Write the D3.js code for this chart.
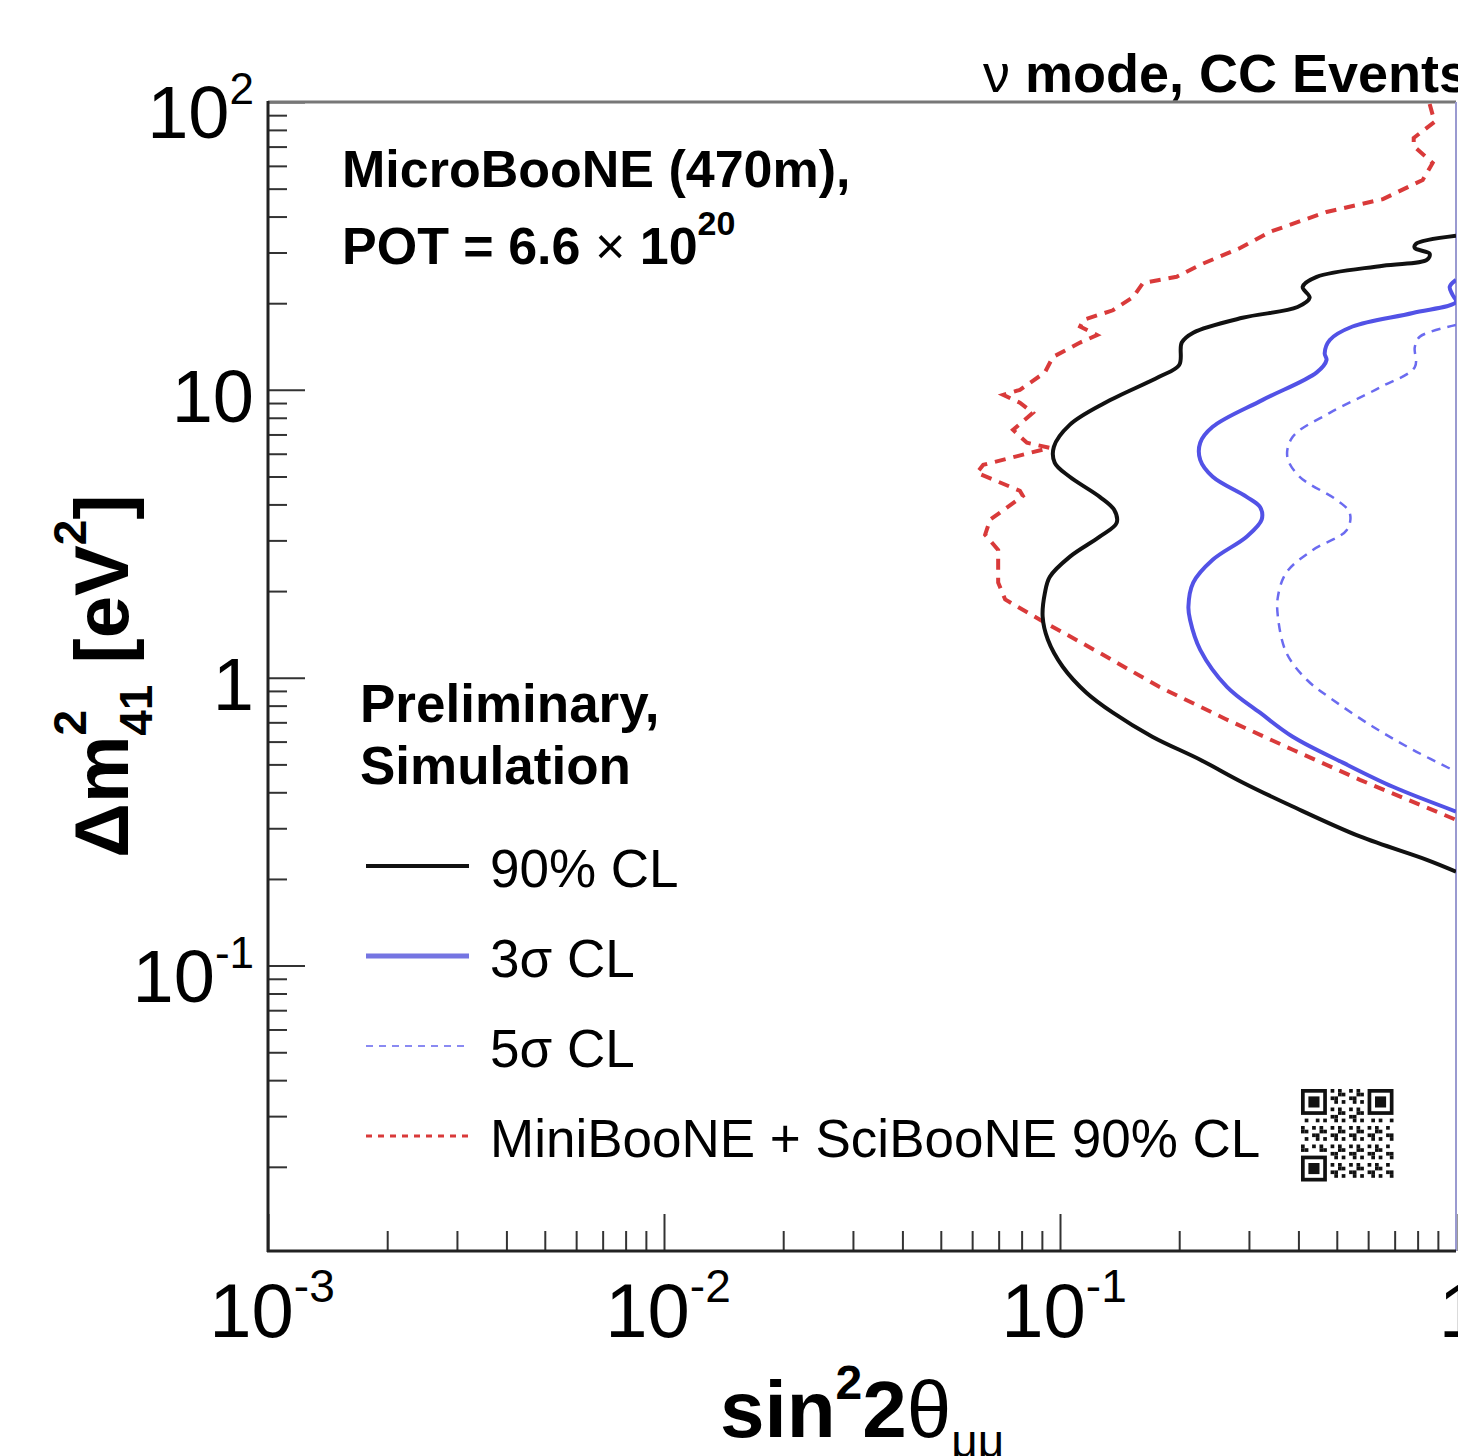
<!DOCTYPE html>
<meta charset="utf-8">
<html>
<head>
<style>
body {
  margin: 0;
  background: #fff;
}
text {
  font-family: "Liberation Sans", Arial, Helvetica, sans-serif;
  fill: #000;
}
</style>
</head>
<body>

<div id="my_dataviz"></div>

<script src="https://d3js.org/d3.v7.min.js"></script>
<script>

// contours, each point is [sin^2 2theta, dm^2_41 (eV^2)]
var cl90 = [[1.0,34.3],[0.791,32.1],[0.787,31.1],[0.858,29.7],[0.844,28.3],[0.654,27.0],[0.445,24.7],
  [0.410,22.8],[0.427,20.9],[0.398,19.4],[0.289,17.8],[0.217,15.8],[0.203,14.6],[0.200,12.2],[0.178,11.1],
  [0.130,9.02],[0.1058,7.56],[0.0965,6.34],[0.0970,5.58],[0.1058,4.99],[0.126,4.25],[0.137,3.83],[0.139,3.45],
  [0.126,3.09],[0.1058,2.63],[0.0942,2.24],[0.0916,1.97],[0.0904,1.63],[0.0932,1.355],[0.1016,1.092],
  [0.1166,0.887],[0.136,0.756],[0.171,0.624],[0.226,0.519],[0.290,0.432],[0.387,0.357],[0.572,0.281],
  [0.844,0.233],[1.0,0.212]];

var cl3sigma = [[1.0,24.1],[0.964,22.8],[0.980,21.4],[1.0,20.2],[0.778,18.5],[0.548,16.6],[0.480,14.9],
  [0.466,13.4],[0.471,12.7],[0.445,11.5],[0.325,9.23],[0.243,7.44],[0.226,6.55],[0.226,5.71],[0.243,4.99],
  [0.296,4.25],[0.320,3.92],[0.323,3.54],[0.296,3.09],[0.243,2.57],[0.217,2.14],[0.211,1.765],[0.213,1.59],
  [0.226,1.25],[0.264,0.93],[0.320,0.756],[0.387,0.624],[0.518,0.507],[0.693,0.418],[1.0,0.343]];

var cl5sigma = [[1.0,16.8],[0.810,15.3],[0.787,14.1],[0.787,12.0],[0.643,10.2],[0.480,8.32],[0.387,6.87],
  [0.375,5.85],[0.403,4.99],[0.499,4.15],[0.539,3.74],[0.530,3.26],[0.435,2.78],[0.373,2.32],[0.355,1.91],
  [0.355,1.63],[0.373,1.22],[0.420,0.984],[0.488,0.839],[0.617,0.676],[0.778,0.562],[1.0,0.472]];

var miniSciBooNE = [[0.858,98.4],[0.883,85.3],[0.782,75.0],[0.782,70.3],[0.873,61.4],[0.824,53.6],[0.654,46.0],
  [0.471,41.5],[0.339,35.4],[0.285,31.1],[0.226,27.2],[0.197,24.7],[0.162,23.5],[0.153,21.0],[0.136,18.9],
  [0.1145,17.5],[0.1124,16.6],[0.124,15.5],[0.1124,14.6],[0.0959,13.0],[0.0916,11.5],[0.0792,10.0],
  [0.0719,9.61],[0.0792,9.02],[0.0854,8.32],[0.0761,7.26],[0.0825,6.55],[0.0942,6.29],[0.0640,5.49],
  [0.0617,5.15],[0.0792,4.46],[0.0806,4.28],[0.0666,3.54],[0.0647,3.14],[0.0698,2.78],[0.0698,2.14],
  [0.0727,1.87],[0.0890,1.59],[0.126,1.22],[0.178,0.93],[0.264,0.715],[0.387,0.562],[0.572,0.442],[1.0,0.321]];

// tick values and labels ([base, superscript])
var xTickValues = [0.001, 0.01, 0.1, 1];
var xTickLabels = [["10","-3"], ["10","-2"], ["10","-1"], ["1",""]];
var yTickValues = [0.1, 1, 10, 100];
var yTickLabels = [["10","-1"], ["1",""], ["10",""], ["10","2"]];

var legendNames = ["90% CL", "3\u03c3 CL", "5\u03c3 CL", "MiniBooNE + SciBooNE 90% CL"];

// minor ticks 2..9 per decade
var xMinor = [], yMinor = [];
[-3,-2,-1].forEach(function(e){ for (var k=2;k<10;k++) xMinor.push(k*Math.pow(10,e)); });
[-2,-1,0,1].forEach(function(e){ for (var k=2;k<10;k++) yMinor.push(k*Math.pow(10,e)); });
yMinor = yMinor.filter(function(v){ return v > 0.0102; });

var svg = d3.select("#my_dataviz")
  .append("svg")
    .attr("width", 1458)
    .attr("height", 1456);

var x = d3.scaleLog().domain([1e-3, 1]).range([268, 1456]);
var y = d3.scaleLog().domain([0.0102, 100]).range([1251, 102]);

svg.append("clipPath").attr("id", "plotclip")
  .append("rect")
    .attr("x", 268).attr("y", 102)
    .attr("width", 1188).attr("height", 1149);

// ticks (inside the frame, ROOT style)
function tickGroup(axis, tr) {
  var g = svg.append("g").attr("transform", tr).call(axis);
  g.select(".domain").remove();
  g.selectAll("line").attr("stroke", "#333").attr("stroke-width", 2);
  return g;
}
tickGroup(d3.axisLeft(y).tickValues(yMinor).tickSize(-19).tickFormat(""), "translate(268,0)");
tickGroup(d3.axisLeft(y).tickValues(yTickValues).tickSize(-37).tickFormat(""), "translate(268,0)");
tickGroup(d3.axisBottom(x).tickValues(xMinor).tickSize(-20).tickFormat(""), "translate(0,1251)");
tickGroup(d3.axisBottom(x).tickValues(xTickValues).tickSize(-37).tickFormat(""), "translate(0,1251)");

// frame
svg.append("line").attr("x1", 268).attr("x2", 1456).attr("y1", 102).attr("y2", 102)
  .attr("stroke", "#777").attr("stroke-width", 3);
svg.append("line").attr("x1", 1456).attr("x2", 1456).attr("y1", 102).attr("y2", 1251)
  .attr("stroke", "#9a9ad0").attr("stroke-width", 2);
svg.append("line").attr("x1", 268).attr("x2", 268).attr("y1", 101).attr("y2", 1252)
  .attr("stroke", "#222").attr("stroke-width", 3);
svg.append("line").attr("x1", 267).attr("x2", 1456).attr("y1", 1251).attr("y2", 1251)
  .attr("stroke", "#222").attr("stroke-width", 3);

// contours
var smooth = d3.line().x(function(d){ return x(d[0]); }).y(function(d){ return y(d[1]); })
  .curve(d3.curveCatmullRom.alpha(0.5));
var jagged = d3.line().x(function(d){ return x(d[0]); }).y(function(d){ return y(d[1]); });

var plot = svg.append("g").attr("clip-path", "url(#plotclip)");
plot.append("path").datum(miniSciBooNE).attr("d", jagged)
  .attr("fill", "none").attr("stroke", "#d93a3a").attr("stroke-width", 4)
  .attr("stroke-dasharray", "11,8");
plot.append("path").datum(cl5sigma).attr("d", smooth)
  .attr("fill", "none").attr("stroke", "#6b6bf0").attr("stroke-width", 2.5)
  .attr("stroke-dasharray", "9,7");
plot.append("path").datum(cl3sigma).attr("d", smooth)
  .attr("fill", "none").attr("stroke", "#5252e6").attr("stroke-width", 4);
plot.append("path").datum(cl90).attr("d", smooth)
  .attr("fill", "none").attr("stroke", "#111").attr("stroke-width", 4);

// tick labels
yTickValues.forEach(function(v, i) {
  var lab = yTickLabels[i];
  var t = svg.append("text")
    .attr("x", 254)
    .attr("y", y(v) + (lab[1] ? 36 : 32))
    .attr("text-anchor", "end")
    .style("font-size", "74px");
  t.append("tspan").text(lab[0]);
  if (lab[1]) t.append("tspan").attr("dy", -34).style("font-size", "44px").text(lab[1]);
});
xTickValues.forEach(function(v, i) {
  var lab = xTickLabels[i];
  var t = svg.append("text")
    .attr("x", x(v) + 4)
    .attr("y", 1337)
    .attr("text-anchor", "middle")
    .style("font-size", "76px");
  t.append("tspan").text(lab[0]);
  if (lab[1]) t.append("tspan").attr("dy", -35).style("font-size", "46px").text(lab[1]);
});

// axis titles
var xt = svg.append("text").attr("x", 720).attr("y", 1437)
  .style("font-size", "80px").style("font-weight", "bold");
xt.append("tspan").text("sin");
xt.append("tspan").attr("dy", -38).style("font-size", "48px").text("2");
xt.append("tspan").attr("dy", 38).text("2");
xt.append("tspan").style("font-weight", "normal").text("\u03b8");
xt.append("tspan").attr("dy", 20).style("font-size", "46px").style("font-weight", "normal").text("\u03bc\u03bc");

var yt = svg.append("text")
  .attr("transform", "translate(128,676) rotate(-90)")
  .attr("text-anchor", "middle")
  .style("font-size", "76px").style("font-weight", "bold");
yt.append("tspan").text("\u0394m");
yt.append("tspan").attr("dy", -42).style("font-size", "46px").text("2");
yt.append("tspan").attr("dx", -26).attr("dy", 66).style("font-size", "46px").text("41");
yt.append("tspan").attr("dy", -24).text(" [eV");
yt.append("tspan").attr("dy", -42).style("font-size", "46px").text("2");
yt.append("tspan").attr("dy", 42).text("]");

// top right title
var tt = svg.append("text").attr("x", 983).attr("y", 92).style("font-size", "54px");
tt.append("tspan").text("\u03bd");
tt.append("tspan").style("font-weight", "bold").text(" mode, CC Events");

// experiment labels
svg.append("text").attr("x", 342).attr("y", 187)
  .style("font-size", "52px").style("font-weight", "bold")
  .text("MicroBooNE (470m),");
var pot = svg.append("text").attr("x", 342).attr("y", 264)
  .style("font-size", "52px").style("font-weight", "bold");
pot.append("tspan").text("POT = 6.6 ");
pot.append("tspan").style("font-weight", "normal").text("\u00d7");
pot.append("tspan").text(" 10");
pot.append("tspan").attr("dy", -29).style("font-size", "34px").text("20");

svg.append("text").attr("x", 360).attr("y", 722)
  .style("font-size", "53px").style("font-weight", "bold").text("Preliminary,");
svg.append("text").attr("x", 360).attr("y", 784)
  .style("font-size", "53px").style("font-weight", "bold").text("Simulation");

// legend
var legendStyles = [
  {color: "#111", width: 4, dash: null},
  {color: "#7575e2", width: 5, dash: null},
  {color: "#8a8af2", width: 2, dash: "7,6"},
  {color: "#d93a3a", width: 3, dash: "6,6"}
];
legendNames.forEach(function(name, i) {
  var ry = 866 + i * 90;
  var st = legendStyles[i];
  svg.append("line")
    .attr("x1", 366).attr("x2", 469).attr("y1", ry).attr("y2", ry)
    .attr("stroke", st.color).attr("stroke-width", st.width)
    .attr("stroke-dasharray", st.dash);
  svg.append("text").attr("x", 490).attr("y", ry + 21)
    .style("font-size", "53px").text(name);
});

// small QR code mark next to the legend
var qr = svg.append("g").attr("transform", "translate(1301,1089)");
var n = 25, m = 3.7;
for (var i = 0; i < n; i++) {
  for (var j = 0; j < n; j++) {
    var inFinder = (i < 8 && j < 8) || (i < 8 && j >= n - 8) || (i >= n - 8 && j < 8);
    if (inFinder) continue;
    if ((i * 31 + j * 17 + i * j * 7) % 5 < 2) {
      qr.append("rect").attr("x", j * m).attr("y", i * m).attr("width", m).attr("height", m).attr("fill", "#111");
    }
  }
}
[[0,0],[0,n-7],[n-7,0]].forEach(function(p) {
  qr.append("rect").attr("x", p[1]*m + m/2).attr("y", p[0]*m + m/2).attr("width", 6*m).attr("height", 6*m)
    .attr("fill", "none").attr("stroke", "#111").attr("stroke-width", m);
  qr.append("rect").attr("x", (p[1]+2)*m).attr("y", (p[0]+2)*m).attr("width", 3*m).attr("height", 3*m)
    .attr("fill", "#111");
});

</script>
</body>
</html>
